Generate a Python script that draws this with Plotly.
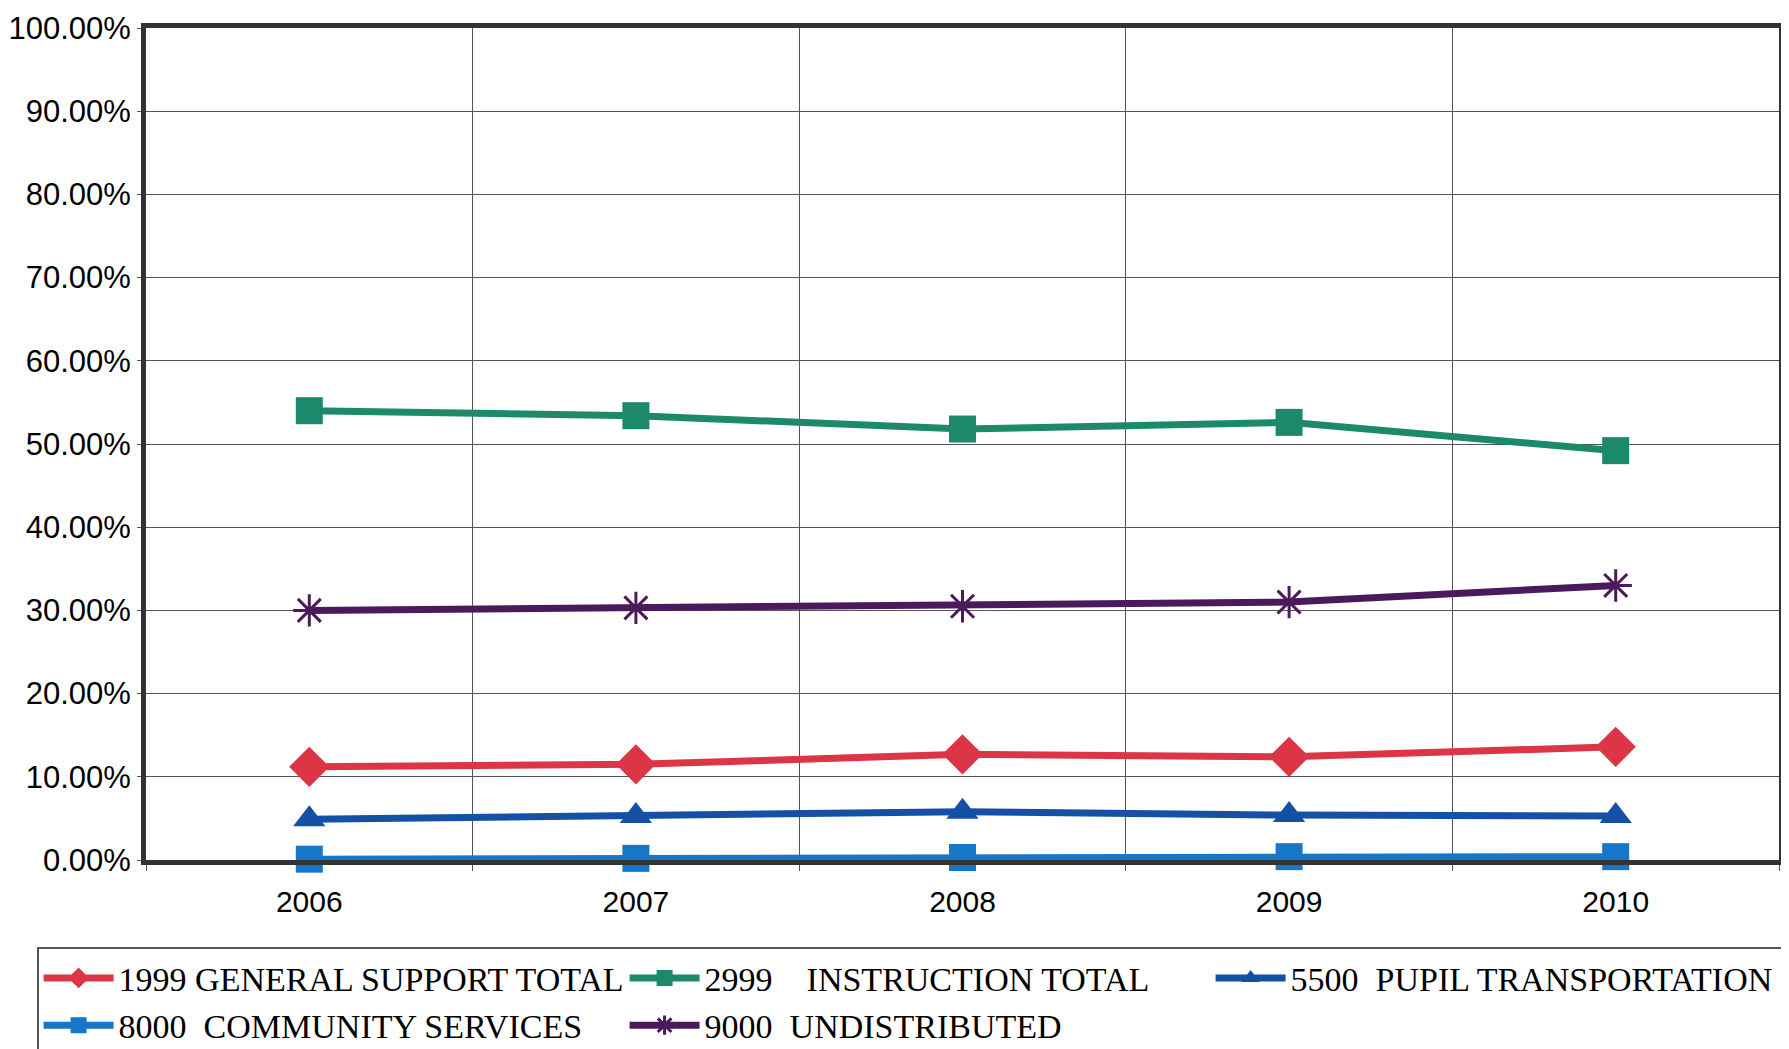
import plotly.graph_objects as go

years = ["2006", "2007", "2008", "2009", "2010"]

general_support = [11.2, 11.5, 12.7, 12.4, 13.6]
instruction = [54.0, 53.4, 51.8, 52.6, 49.2]
pupil_transport = [4.9, 5.3, 5.8, 5.4, 5.3]
community = [0.1, 0.2, 0.3, 0.4, 0.4]
undistributed = [30.0, 30.3, 30.5, 31.0, 33.0]

series = [
    ("1999 GENERAL SUPPORT TOTAL", general_support, "#dc3545", "diamond", 31),
    ("2999\u00a0\u00a0\u00a0\u00a0INSTRUCTION TOTAL", instruction, "#1c8a6a", "square", 27),
    ("5500\u00a0\u00a0PUPIL TRANSPORTATION", pupil_transport, "#1450a6", "triangle-up", 28),
    ("8000\u00a0\u00a0COMMUNITY SERVICES", community, "#1677c8", "square", 27),
    ("9000\u00a0\u00a0UNDISTRIBUTED", undistributed, "#4a1a5c", "asterisk-open", 27),
]

fig = go.Figure()

for name, vals, color, symbol, size in series:
    marker = dict(symbol=symbol, size=size, color=color)
    if symbol == "asterisk-open":
        marker["line"] = dict(color=color, width=3)
    fig.add_trace(go.Scatter(
        x=years, y=vals, name=name, mode="lines+markers",
        line=dict(color=color, width=7), marker=marker,
        cliponaxis=False,
    ))

# page body adds an 8px margin, so the figure is sized to fit inside the window
fig.update_layout(
    width=1781, height=1041,
    margin=dict(l=138, r=10, t=20, b=189, autoexpand=False),
    plot_bgcolor="white", paper_bgcolor="white",
    font=dict(family="Liberation Sans, Arial", size=31, color="black"),
    showlegend=True,
    legend=dict(
        orientation="h", x=-0.067, y=-0.105, xanchor="left", yanchor="top",
        font=dict(family="Liberation Serif, Times New Roman", size=34, color="black"),
        bordercolor="#555", borderwidth=2,
        itemwidth=70,
        entrywidth=501, entrywidthmode="pixels",
        traceorder="normal",
    ),
)

fig.update_xaxes(
    type="category", tickson="boundaries", range=[-0.5, 4.5],
    automargin=False,
    showgrid=True, gridcolor="#555", gridwidth=1,
    showline=True, linecolor="#333", linewidth=5, mirror=True,
    ticks="outside", ticklen=6, tickcolor="#555",
    ticklabelstandoff=11,
    tickfont=dict(size=30),
)
fig.update_yaxes(
    range=[0, 100], dtick=10,
    automargin=False, ticklabeloverflow="allow",
    tickformat=".2f", ticksuffix="%",
    showgrid=True, gridcolor="#555", gridwidth=1,
    showline=True, linecolor="#333", linewidth=5, mirror=True,
    ticks="outside", ticklen=4, tickcolor="#555",
    zeroline=False,
    tickfont=dict(size=31),
)

fig.write_html("out.html")
